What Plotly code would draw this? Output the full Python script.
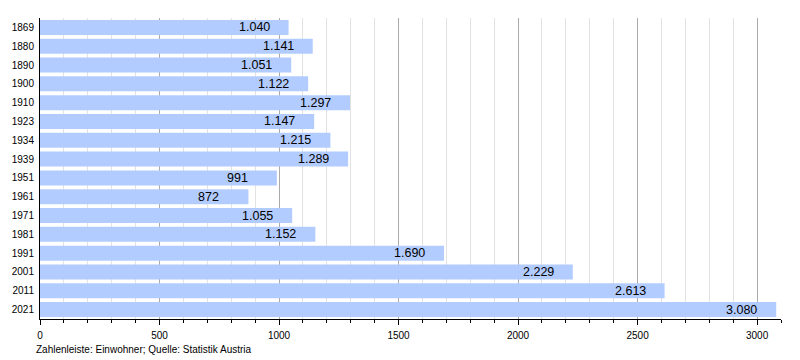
import plotly.graph_objects as go

years = ["1869", "1880", "1890", "1900", "1910", "1923", "1934", "1939",
         "1951", "1961", "1971", "1981", "1991", "2001", "2011", "2021"]
population = [1040, 1141, 1051, 1122, 1297, 1147, 1215, 1289,
              991, 872, 1055, 1152, 1690, 2229, 2613, 3080]
caption = "Zahlenleiste: Einwohner; Quelle: Statistik Austria"

labels = [f"{v:,}".replace(",", ".") for v in population]

fig = go.Figure()
fig.add_trace(go.Bar(
    x=population, y=years, orientation="h",
    marker=dict(color="rgb(179,204,255)", line=dict(width=0)),
    hoverinfo="skip",
))

for i, (v, t) in enumerate(zip(population, labels)):
    fig.add_annotation(x=v, y=i, xref="x", yref="y", text=t, showarrow=False,
                       xanchor="left", xshift=-52, yanchor="middle",
                       font=dict(family="Liberation Sans, Arial", size=12.5, color="black"))

fig.add_annotation(x=0, y=-0.1, xref="paper", yref="paper", text=caption,
                   showarrow=False, xanchor="left", yanchor="middle", xshift=-6,
                   font=dict(family="Liberation Sans, Arial", size=10, color="black"))

fig.update_layout(
    width=800, height=360,
    margin=dict(l=40, r=19, t=18, b=41),
    paper_bgcolor="white", plot_bgcolor="white",
    bargap=0.2,
    showlegend=False,
    font=dict(family="Liberation Sans, Arial", size=10, color="black"),
    xaxis=dict(
        range=[0, 3100], dtick=500, tick0=0,
        showgrid=True, gridcolor="#aaaaaa", gridwidth=1,
        showline=True, linecolor="black", linewidth=1,
        ticks="outside", ticklen=5, tickcolor="black",
        ticklabelstandoff=2,
        zeroline=False,
        minor=dict(dtick=100, showgrid=True, gridcolor="#e2e2e2", gridwidth=1,
                   ticks="outside", ticklen=3, tickcolor="black"),
        tickfont=dict(size=10, color="black"),
        fixedrange=True,
    ),
    yaxis=dict(
        type="category", range=[len(years) - 0.5, -0.5],
        showline=True, linecolor="black", linewidth=1,
        ticks="", showgrid=False, zeroline=False,
        ticklabelstandoff=3,
        tickfont=dict(size=10, color="black"),
        fixedrange=True,
    ),
)

fig.write_html("out.html", config={"displayModeBar": False},
               post_script="document.body.style.margin='0';document.body.style.overflow='hidden';")
